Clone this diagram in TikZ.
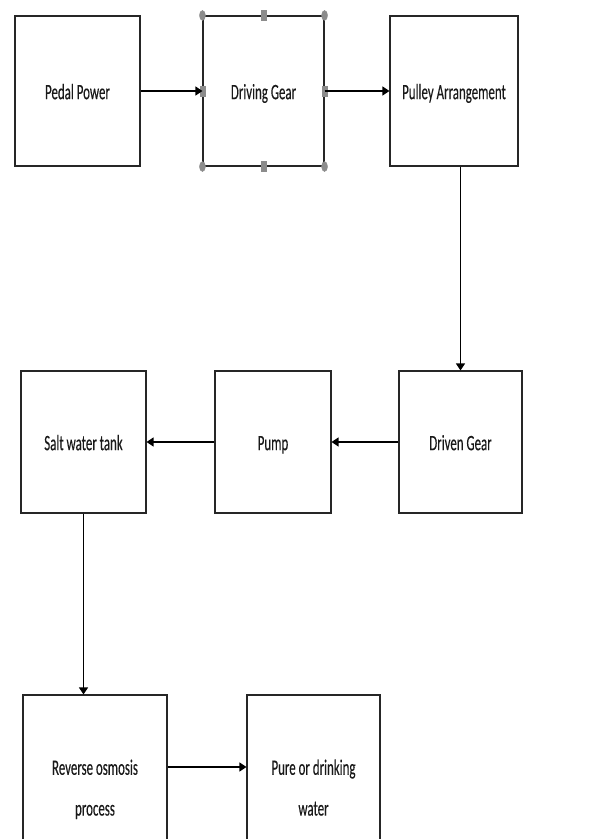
\documentclass[tikz,border=0pt]{standalone}
\usepackage{fontspec}
\setmainfont{Carlito}[FakeBold=0.35]
\usetikzlibrary{arrows.meta,calc}
\newcommand{\vtxt}[1]{\scalebox{1}[1.7]{\begin{tabular}{@{}c@{}}#1\end{tabular}}}
\begin{document}
\begin{tikzpicture}[x=1pt,y=-1pt,
  blk/.style={draw=black!85, line width=1.1pt, rectangle, inner sep=0pt, text=black!90,
    font=\fontsize{12.9}{24}\selectfont},
  conn/.style={line width=1.4pt, -{Triangle[length=7pt,width=9pt]}},
  hround/.style={fill=black!45, draw=black!45},
  hsq/.style={fill=black!45, draw=black!45}]
\useasboundingbox (0,0) rectangle (600,839);
\clip (0,0) rectangle (600,839);
\node[blk, minimum width=125, minimum height=150] (pedal) at (77.5,91) {\vtxt{Pedal Power}};
\node[blk, minimum width=121, minimum height=150] (drive) at (263.5,91) {\vtxt{Driving Gear}};
\node[blk, minimum width=128, minimum height=150] (pulley) at (454,91) {\vtxt{Pulley Arrangement}};
\node[blk, minimum width=123, minimum height=142] (driven) at (460.5,442) {\vtxt{Driven Gear}};
\node[blk, minimum width=116, minimum height=142] (pump) at (273,442) {\vtxt{Pump}};
\node[blk, minimum width=125, minimum height=142] (salt) at (83.5,442) {\vtxt{Salt water tank}};
\node[blk, minimum width=144, minimum height=184] (ro) at (95,787) {\vtxt{Reverse osmosis\\process}};
\node[blk, minimum width=133, minimum height=184] (pure) at (313.5,787) {\vtxt{Pure or drinking\\water}};
% selection handles
\foreach \a in {north west,north east,south west,south east}
  \fill[hround] (drive.\a) ellipse [x radius=3, y radius=5];
\foreach \a in {north,south,west,east}
  \fill[hsq] ($(drive.\a)+(-2.5,-5)$) rectangle ($(drive.\a)+(2.5,5)$);
% connectors
\draw[conn] (pedal) -- (drive);
\draw[conn] (drive) -- (pulley);
\draw[conn] (driven.north |- pulley.south) -- (driven.north);
\draw[conn] (driven) -- (pump);
\draw[conn] (pump) -- (salt);
\draw[conn] (salt.south) -- (salt.south |- ro.north);
\draw[conn] (ro.east |- 0,767) -- (pure.west |- 0,767);
\end{tikzpicture}
\end{document}
